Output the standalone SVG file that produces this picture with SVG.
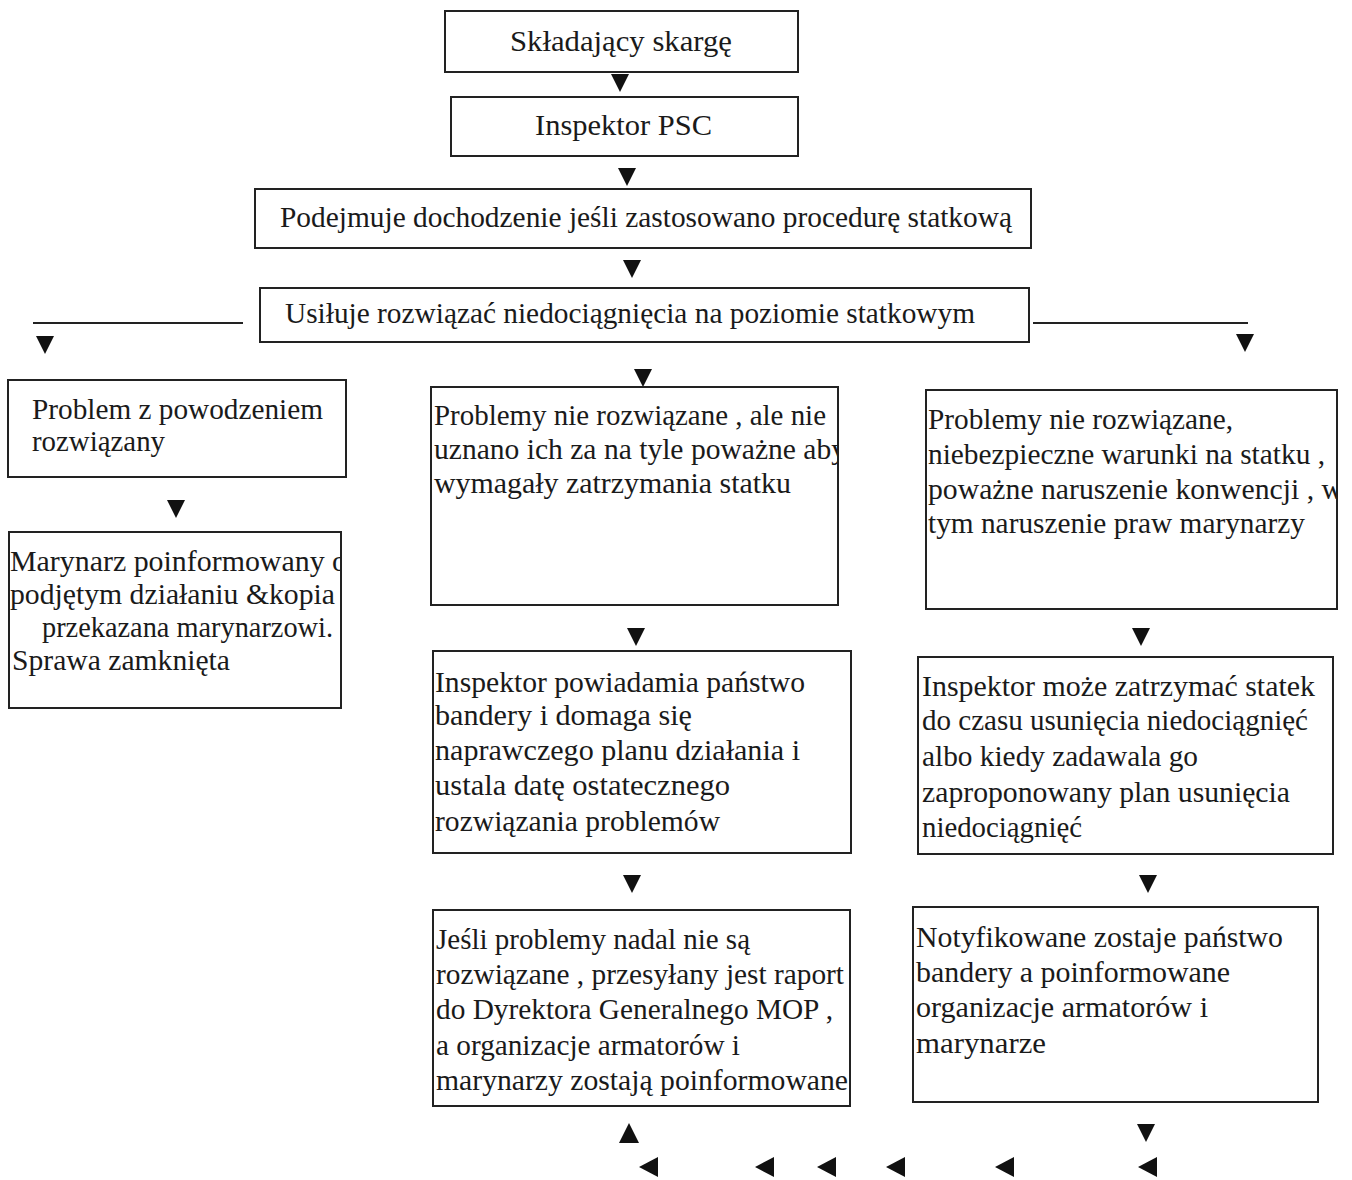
<svg xmlns="http://www.w3.org/2000/svg" width="1352" height="1180" viewBox="0 0 1352 1180">
<style>
.box{fill:#fff;stroke:#222;stroke-width:2}
.t{font-family:"Liberation Serif","Times New Roman",serif;font-size:30px;fill:#1a1a1a}
.ln{stroke:#222;stroke-width:2;fill:none}
.tri{fill:#111}
</style>
<defs>
<path id="dn" d="M-9,-9 L9,-9 L0,9 Z"/>
<path id="up" d="M-10,10 L10,10 L0,-10 Z"/>
<path id="lf" d="M9,-10 L9,10 L-10,0 Z"/>
<clipPath id="c6"><rect x="9" y="533" width="331" height="174"/></clipPath>
<clipPath id="c7"><rect x="432" y="388" width="405" height="216"/></clipPath>
<clipPath id="c9"><rect x="927" y="391" width="409" height="217"/></clipPath>
</defs>
<rect width="1352" height="1180" fill="#fff"/>

<g id="connectors">
<line class="ln" x1="33" y1="323" x2="243" y2="323"/>
<line class="ln" x1="1033" y1="323" x2="1248" y2="323"/>
<use href="#dn" class="tri" x="620" y="83"/>
<use href="#dn" class="tri" x="627" y="177"/>
<use href="#dn" class="tri" x="632" y="269"/>
<use href="#dn" class="tri" x="45" y="345"/>
<use href="#dn" class="tri" x="1245" y="343"/>
<use href="#dn" class="tri" x="643" y="378"/>
<use href="#dn" class="tri" x="176" y="509"/>
<use href="#dn" class="tri" x="636" y="637"/>
<use href="#dn" class="tri" x="1141" y="637"/>
<use href="#dn" class="tri" x="632" y="884"/>
<use href="#dn" class="tri" x="1148" y="884"/>
<use href="#dn" class="tri" x="1146" y="1133"/>
<use href="#up" class="tri" x="629" y="1133"/>
<use href="#lf" class="tri" x="649" y="1167"/>
<use href="#lf" class="tri" x="765" y="1167"/>
<use href="#lf" class="tri" x="827" y="1167"/>
<use href="#lf" class="tri" x="896" y="1167"/>
<use href="#lf" class="tri" x="1005" y="1167"/>
<use href="#lf" class="tri" x="1148" y="1167"/>
</g>

<g id="n1">
<rect class="box" x="445" y="11" width="353" height="61"/>
<text class="t" x="510" y="51" textLength="222" lengthAdjust="spacingAndGlyphs">Składający skargę</text>
</g>
<g id="n2">
<rect class="box" x="451" y="97" width="347" height="59"/>
<text class="t" x="535" y="135" textLength="177" lengthAdjust="spacingAndGlyphs">Inspektor  PSC</text>
</g>
<g id="n3">
<rect class="box" x="255" y="189" width="776" height="59"/>
<text class="t" x="280" y="227" textLength="732" lengthAdjust="spacingAndGlyphs">Podejmuje dochodzenie jeśli zastosowano procedurę statkową</text>
</g>
<g id="n4">
<rect class="box" x="260" y="288" width="769" height="54"/>
<text class="t" x="285" y="323" textLength="690" lengthAdjust="spacingAndGlyphs">Usiłuje rozwiązać niedociągnięcia na poziomie statkowym</text>
</g>
<g id="n5">
<rect class="box" x="8" y="380" width="338" height="97"/>
<text class="t" x="32" y="419" textLength="291" lengthAdjust="spacingAndGlyphs">Problem z powodzeniem</text>
<text class="t" x="32" y="451" textLength="133" lengthAdjust="spacingAndGlyphs">rozwiązany</text>
</g>
<g id="n6">
<rect class="box" x="9" y="532" width="332" height="176"/>
<g clip-path="url(#c6)">
<text class="t" x="10" y="571" textLength="337" lengthAdjust="spacingAndGlyphs">Marynarz poinformowany o</text>
<text class="t" x="10" y="604" textLength="325" lengthAdjust="spacingAndGlyphs">podjętym działaniu &amp;kopia</text>
<text class="t" x="42" y="637" textLength="291" lengthAdjust="spacingAndGlyphs">przekazana marynarzowi.</text>
<text class="t" x="12" y="670" textLength="218" lengthAdjust="spacingAndGlyphs">Sprawa zamknięta</text>
</g>
</g>
<g id="n7">
<rect class="box" x="431" y="387" width="407" height="218"/>
<g clip-path="url(#c7)">
<text class="t" x="434" y="425" textLength="392" lengthAdjust="spacingAndGlyphs">Problemy nie rozwiązane , ale nie</text>
<text class="t" x="434" y="459" textLength="412" lengthAdjust="spacingAndGlyphs">uznano ich za na tyle poważne  aby</text>
<text class="t" x="434" y="493" textLength="357" lengthAdjust="spacingAndGlyphs">wymagały zatrzymania statku</text>
</g>
</g>
<g id="n8">
<rect class="box" x="433" y="651" width="418" height="202"/>
<text class="t" x="435" y="692" textLength="370" lengthAdjust="spacingAndGlyphs">Inspektor powiadamia państwo</text>
<text class="t" x="435" y="725" textLength="257" lengthAdjust="spacingAndGlyphs">bandery  i domaga się</text>
<text class="t" x="435" y="760" textLength="365" lengthAdjust="spacingAndGlyphs">naprawczego planu działania  i</text>
<text class="t" x="435" y="795" textLength="295" lengthAdjust="spacingAndGlyphs">ustala datę  ostatecznego</text>
<text class="t" x="435" y="831" textLength="285" lengthAdjust="spacingAndGlyphs">rozwiązania problemów</text>
</g>
<g id="n9">
<rect class="box" x="926" y="390" width="411" height="219"/>
<g clip-path="url(#c9)">
<text class="t" x="928" y="429" textLength="305" lengthAdjust="spacingAndGlyphs">Problemy nie rozwiązane,</text>
<text class="t" x="928" y="464" textLength="397" lengthAdjust="spacingAndGlyphs">niebezpieczne warunki na statku ,</text>
<text class="t" x="928" y="499" textLength="415" lengthAdjust="spacingAndGlyphs">poważne naruszenie konwencji ,  w</text>
<text class="t" x="928" y="533" textLength="377" lengthAdjust="spacingAndGlyphs">tym naruszenie praw marynarzy</text>
</g>
</g>
<g id="n10">
<rect class="box" x="918" y="657" width="415" height="197"/>
<text class="t" x="922" y="696" textLength="393" lengthAdjust="spacingAndGlyphs">Inspektor może zatrzymać statek</text>
<text class="t" x="922" y="730" textLength="386" lengthAdjust="spacingAndGlyphs">do czasu usunięcia niedociągnięć</text>
<text class="t" x="922" y="766" textLength="276" lengthAdjust="spacingAndGlyphs">albo kiedy zadawala go</text>
<text class="t" x="922" y="802" textLength="368" lengthAdjust="spacingAndGlyphs">zaproponowany plan usunięcia</text>
<text class="t" x="922" y="837" textLength="160" lengthAdjust="spacingAndGlyphs">niedociągnięć</text>
</g>
<g id="n11">
<rect class="box" x="433" y="910" width="417" height="196"/>
<text class="t" x="436" y="949" textLength="314" lengthAdjust="spacingAndGlyphs">Jeśli problemy nadal nie są</text>
<text class="t" x="436" y="984" textLength="408" lengthAdjust="spacingAndGlyphs">rozwiązane , przesyłany jest raport</text>
<text class="t" x="436" y="1019" textLength="397" lengthAdjust="spacingAndGlyphs">do Dyrektora Generalnego  MOP ,</text>
<text class="t" x="436" y="1055" textLength="304" lengthAdjust="spacingAndGlyphs">a organizacje armatorów i</text>
<text class="t" x="436" y="1090" textLength="412" lengthAdjust="spacingAndGlyphs">marynarzy zostają poinformowane</text>
</g>
<g id="n12">
<rect class="box" x="913" y="907" width="405" height="195"/>
<text class="t" x="916" y="947" textLength="367" lengthAdjust="spacingAndGlyphs">Notyfikowane zostaje państwo</text>
<text class="t" x="916" y="982" textLength="314" lengthAdjust="spacingAndGlyphs">bandery a poinformowane</text>
<text class="t" x="916" y="1017" textLength="292" lengthAdjust="spacingAndGlyphs">organizacje  armatorów i</text>
<text class="t" x="916" y="1053" textLength="130" lengthAdjust="spacingAndGlyphs">marynarze</text>
</g>
</svg>
